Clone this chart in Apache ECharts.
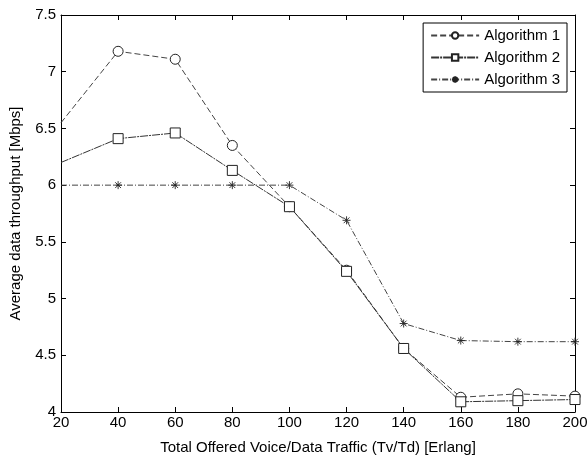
<!DOCTYPE html>
<html><head><meta charset="utf-8">
<script src="https://cdn.jsdelivr.net/npm/echarts@6/dist/echarts.min.js"></script>
<style>html,body{margin:0;padding:0;background:#fff}#c{width:587px;height:457px}</style>
</head><body><div id="c"></div>
<script>
const traffic = [20, 40, 60, 80, 100, 120, 140, 160, 180, 200];
const alg1 = [6.55, 7.18, 7.11, 6.35, 5.81, 5.25, 4.56, 4.13, 4.16, 4.14];
const alg2 = [6.20, 6.41, 6.46, 6.13, 5.81, 5.24, 4.56, 4.09, 4.10, 4.11];
const alg3 = [6.00, 6.00, 6.00, 6.00, 6.00, 5.69, 4.78, 4.63, 4.62, 4.62];
const names = ['Algorithm 1', 'Algorithm 2', 'Algorithm 3'];

function pts(arr) {
  return arr.map((v, i) => i === 0 ? { value: [traffic[i], v], symbol: 'none' } : [traffic[i], v]);
}
const font = 'Liberation Sans, Arial, sans-serif';
const star = 'path://M0,-5L0,5M-5,0L5,0M-3.6,-3.6L3.6,3.6M-3.6,3.6L3.6,-3.6';
const chart = echarts.init(document.getElementById('c'));
const axisCommon = {
  axisLine: { show: true, lineStyle: { color: '#000', width: 1 } },
  axisTick: { show: true, inside: true, length: 5, lineStyle: { color: '#000' } },
  splitLine: { show: false }
};
chart.setOption({
  animation: false,
  backgroundColor: '#fff',
  grid: { left: 61, top: 15, right: 12, bottom: 45, containLabel: false, outerBoundsMode: 'none' },
  legend: {
    top: 23, right: 20, orient: 'vertical',
    backgroundColor: '#fff', borderColor: '#000', borderWidth: 1,
    padding: [5, 7, 5, 7], itemGap: 7, itemWidth: 48, itemHeight: 8,
    textStyle: { fontFamily: font, fontSize: 15, color: '#000' },
    data: names
  },
  xAxis: [
    Object.assign({ type: 'value', min: 20, max: 200, interval: 20,
      name: 'Total Offered Voice/Data Traffic (Tv/Td) [Erlang]', nameLocation: 'middle', nameGap: 28,
      nameTextStyle: { fontFamily: font, fontSize: 15, color: '#000' },
      axisLabel: { fontFamily: font, fontSize: 15, color: '#000', margin: 3 } }, axisCommon),
    Object.assign({ type: 'value', min: 20, max: 200, interval: 20, position: 'top',
      axisLabel: { show: false } }, axisCommon)
  ],
  yAxis: [
    Object.assign({ type: 'value', min: 4, max: 7.5, interval: 0.5,
      name: 'Average data throughput [Mbps]', nameLocation: 'middle', nameGap: 38,
      nameTextStyle: { fontFamily: font, fontSize: 15, color: '#000' },
      axisLabel: { fontFamily: font, fontSize: 15, color: '#000', margin: 5 } }, axisCommon),
    Object.assign({ type: 'value', min: 4, max: 7.5, interval: 0.5, position: 'right',
      axisLabel: { show: false } }, axisCommon)
  ],
  series: [
    { name: names[0], type: 'line', data: pts(alg1), symbol: 'circle', symbolSize: 10,
      lineStyle: { color: '#444', width: 1, type: [6, 3] },
      itemStyle: { color: '#fff', borderColor: '#222', borderWidth: 1 } },
    { name: names[1], type: 'line', data: pts(alg2), symbol: 'rect', symbolSize: 10,
      lineStyle: { color: '#333', width: 1, type: [8, 1, 2, 1] },
      itemStyle: { color: '#fff', borderColor: '#222', borderWidth: 1 } },
    { name: names[2], type: 'line', data: pts(alg3), symbol: star, symbolSize: 8,
      lineStyle: { color: '#444', width: 1, type: [6, 2, 1, 2] },
      itemStyle: { color: '#000', borderColor: '#222', borderWidth: 0.9 } }
  ]
});
</script></body></html>
